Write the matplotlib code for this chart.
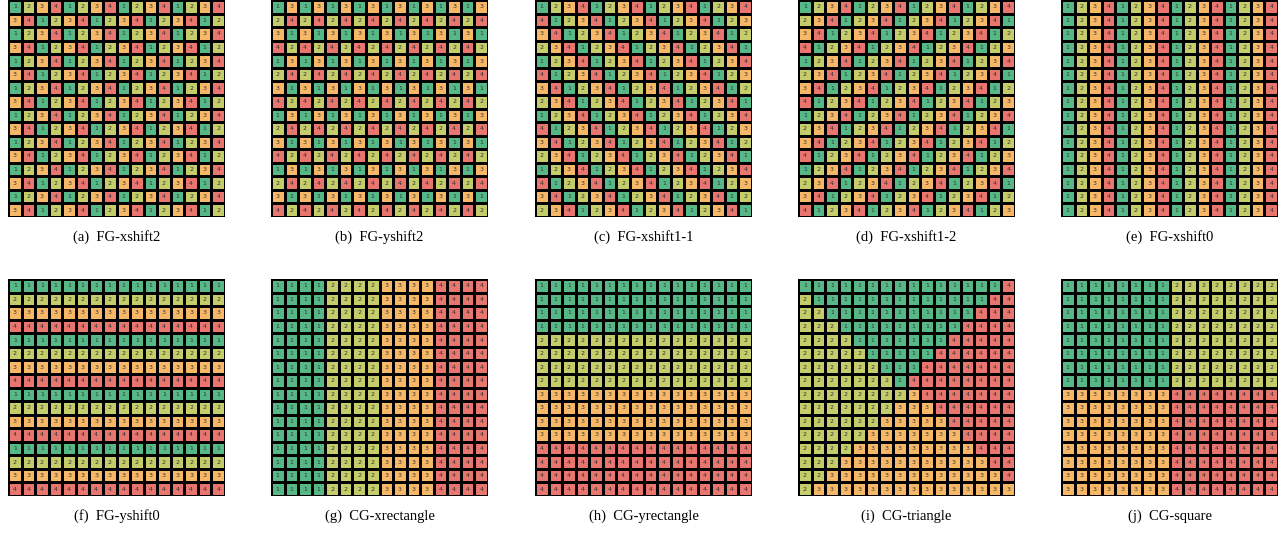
import matplotlib
matplotlib.use('Agg')
import matplotlib.pyplot as plt
import numpy as np
from matplotlib.colors import ListedColormap

# підписи панелей
captions = ['(a)  FG-xshift2', '(b)  FG-yshift2', '(c)  FG-xshift1-1', '(d)  FG-xshift1-2',
            '(e)  FG-xshift0', '(f)  FG-yshift0', '(g)  CG-xrectangle', '(h)  CG-yrectangle',
            '(i)  CG-triangle', '(j)  CG-square']

# сітки 16x16, кожен рядок - рядок комірок
fg_xshift2 = ['1234123412341234', '3412341234123412'] * 8

fg_yshift2 = ['1313131313131313', '2424242424242424',
              '3131313131313131', '4242424242424242'] * 4

fg_xshift1_1 = ['1234123412341234', '4123412341234123',
                '3412341234123412', '2341234123412341'] * 4

fg_xshift1_2 = ['1234123412341234', '2341234123412341',
                '3412341234123412', '4123412341234123'] * 4

fg_xshift0 = ['1234123412341234'] * 16

fg_yshift0 = ['1111111111111111', '2222222222222222',
              '3333333333333333', '4444444444444444'] * 4

cg_xrectangle = ['1111222233334444'] * 16

cg_yrectangle = (['1111111111111111'] * 4 + ['2222222222222222'] * 4 +
                 ['3333333333333333'] * 4 + ['4444444444444444'] * 4)

cg_triangle = ['1111111111111114',
               '2111111111111144',
               '2211111111111444',
               '2221111111114444',
               '2222111111144444',
               '2222211111444444',
               '2222221114444444',
               '2222222144444444',
               '2222222234444444',
               '2222222333444444',
               '2222223333344444',
               '2222233333334444',
               '2222333333333444',
               '2223333333333344',
               '2233333333333334',
               '2333333333333333']

cg_square = ['1111111122222222'] * 8 + ['3333333344444444'] * 8

grids = [fg_xshift2, fg_yshift2, fg_xshift1_1, fg_xshift1_2, fg_xshift0,
         fg_yshift0, cg_xrectangle, cg_yrectangle, cg_triangle, cg_square]

# кольори груп 1..4
cmap = ListedColormap(['#55b886', '#c5cd6b', '#f6b866', '#e8766f'])

W, H = 1285, 537
fig = plt.figure(figsize=(W / 100, H / 100), dpi=100)

lefts = [8, 271, 535, 798, 1061]
tops = [0, 279]
size = 217

for k, (grid, cap) in enumerate(zip(grids, captions)):
    row, col = divmod(k, 5)
    x0 = lefts[col]
    y0 = tops[row]
    ax = fig.add_axes([x0 / W, 1 - (y0 + size) / H, size / W, size / H])
    data = np.array([[int(ch) for ch in line] for line in grid])
    ax.pcolormesh(data, cmap=cmap, vmin=0.5, vmax=4.5, edgecolors='black', linewidth=0.9)
    for r in range(data.shape[0]):
        for c in range(data.shape[1]):
            ax.text(c + 0.5, r + 0.5, str(data[r, c]), ha='center', va='center',
                    fontsize=4.5, color='#333333')
    ax.set_xlim(0, 16)
    ax.set_ylim(16, 0)
    ax.axis('off')
    fig.text((x0 + size / 2) / W, 1 - (y0 + size + 20) / H, cap, ha='center', va='center',
             fontsize=10.5, family='Liberation Serif')

fig.savefig('out.png', dpi=100)
